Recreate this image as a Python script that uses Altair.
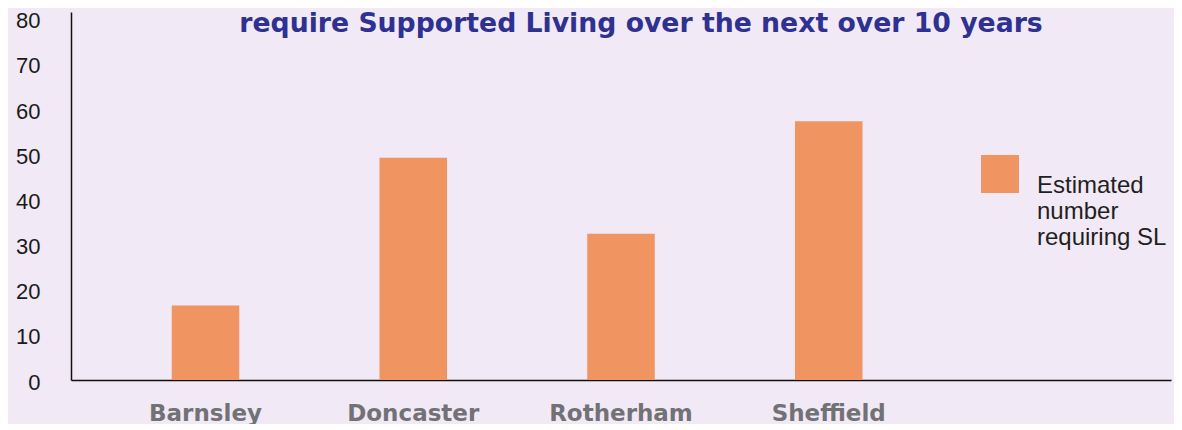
import altair as alt
import pandas as pd

categories = ["Barnsley", "Doncaster", "Rotherham", "Sheffield"]
values = [16.5, 49.2, 32.4, 57.3]
series_name = "Estimated\nnumber\nrequiring SL"
y_ticks = [0, 10, 20, 30, 40, 50, 60, 70, 80]
title_text = "require Supported Living over the next over 10 years"

x_domain = categories + [""]

df = pd.DataFrame({"area": categories, "value": values, "series": [series_name] * len(categories)})

bars = alt.Chart(df).mark_bar(color="#F09462").encode(
    x=alt.X(
        "area:N",
        sort=None,
        scale=alt.Scale(domain=x_domain, paddingInner=0.675, paddingOuter=0.485),
        axis=alt.Axis(
            title=None,
            labelAngle=0,
            ticks=False,
            labelPadding=22,
            labelFont="DejaVu Sans",
            labelFontSize=23,
            labelFontWeight="bold",
            labelColor="#727276",
            domainColor="#111111",
            domainWidth=1.5,
            grid=False,
        ),
    ),
    y=alt.Y(
        "value:Q",
        scale=alt.Scale(domain=[0, 81.5], nice=False),
        axis=alt.Axis(
            title=None,
            values=y_ticks,
            ticks=False,
            grid=False,
            labelPadding=31,
            labelOffset=2,
            labelFont="Liberation Sans",
            labelFontSize=22,
            labelColor="#1a1a1a",
            domainColor="#111111",
            domainWidth=1.5,
        ),
    ),
    fill=alt.Fill(
        "series:N",
        scale=alt.Scale(range=["#F09462"]),
        legend=alt.Legend(
            title=None,
            orient="none",
            legendX=910,
            legendY=143,
            padding=0,
            symbolType="square",
            symbolSize=1444,
            symbolStrokeWidth=0,
            symbolOpacity=1,
            labelOffset=18,
            labelFont="Liberation Sans",
            labelFontSize=24,
            labelColor="#231F20",
            labelBaseline="top",
            labelLimit=400,
            labelExpr="split(datum.label, '\\n')",
        ),
    ),
)

title_df = pd.DataFrame({"t": [title_text]})
title = alt.Chart(title_df).mark_text(
    font="DejaVu Sans",
    fontSize=26.7,
    fontWeight="bold",
    color="#2E3192",
    align="center",
    baseline="alphabetic",
).encode(text="t:N", x=alt.value(570), y=alt.value(20))

chart = (
    alt.layer(bars, title)
    .properties(
        width=1100,
        height=368,
        autosize=alt.AutoSizeParams(type="none"),
        padding={"left": 63, "top": 4, "right": 3, "bottom": 44},
        background="#F1E9F5",
    )
    .configure_view(stroke=None)
)

chart.save("out.html", embed_options={"renderer": "svg", "actions": False})
